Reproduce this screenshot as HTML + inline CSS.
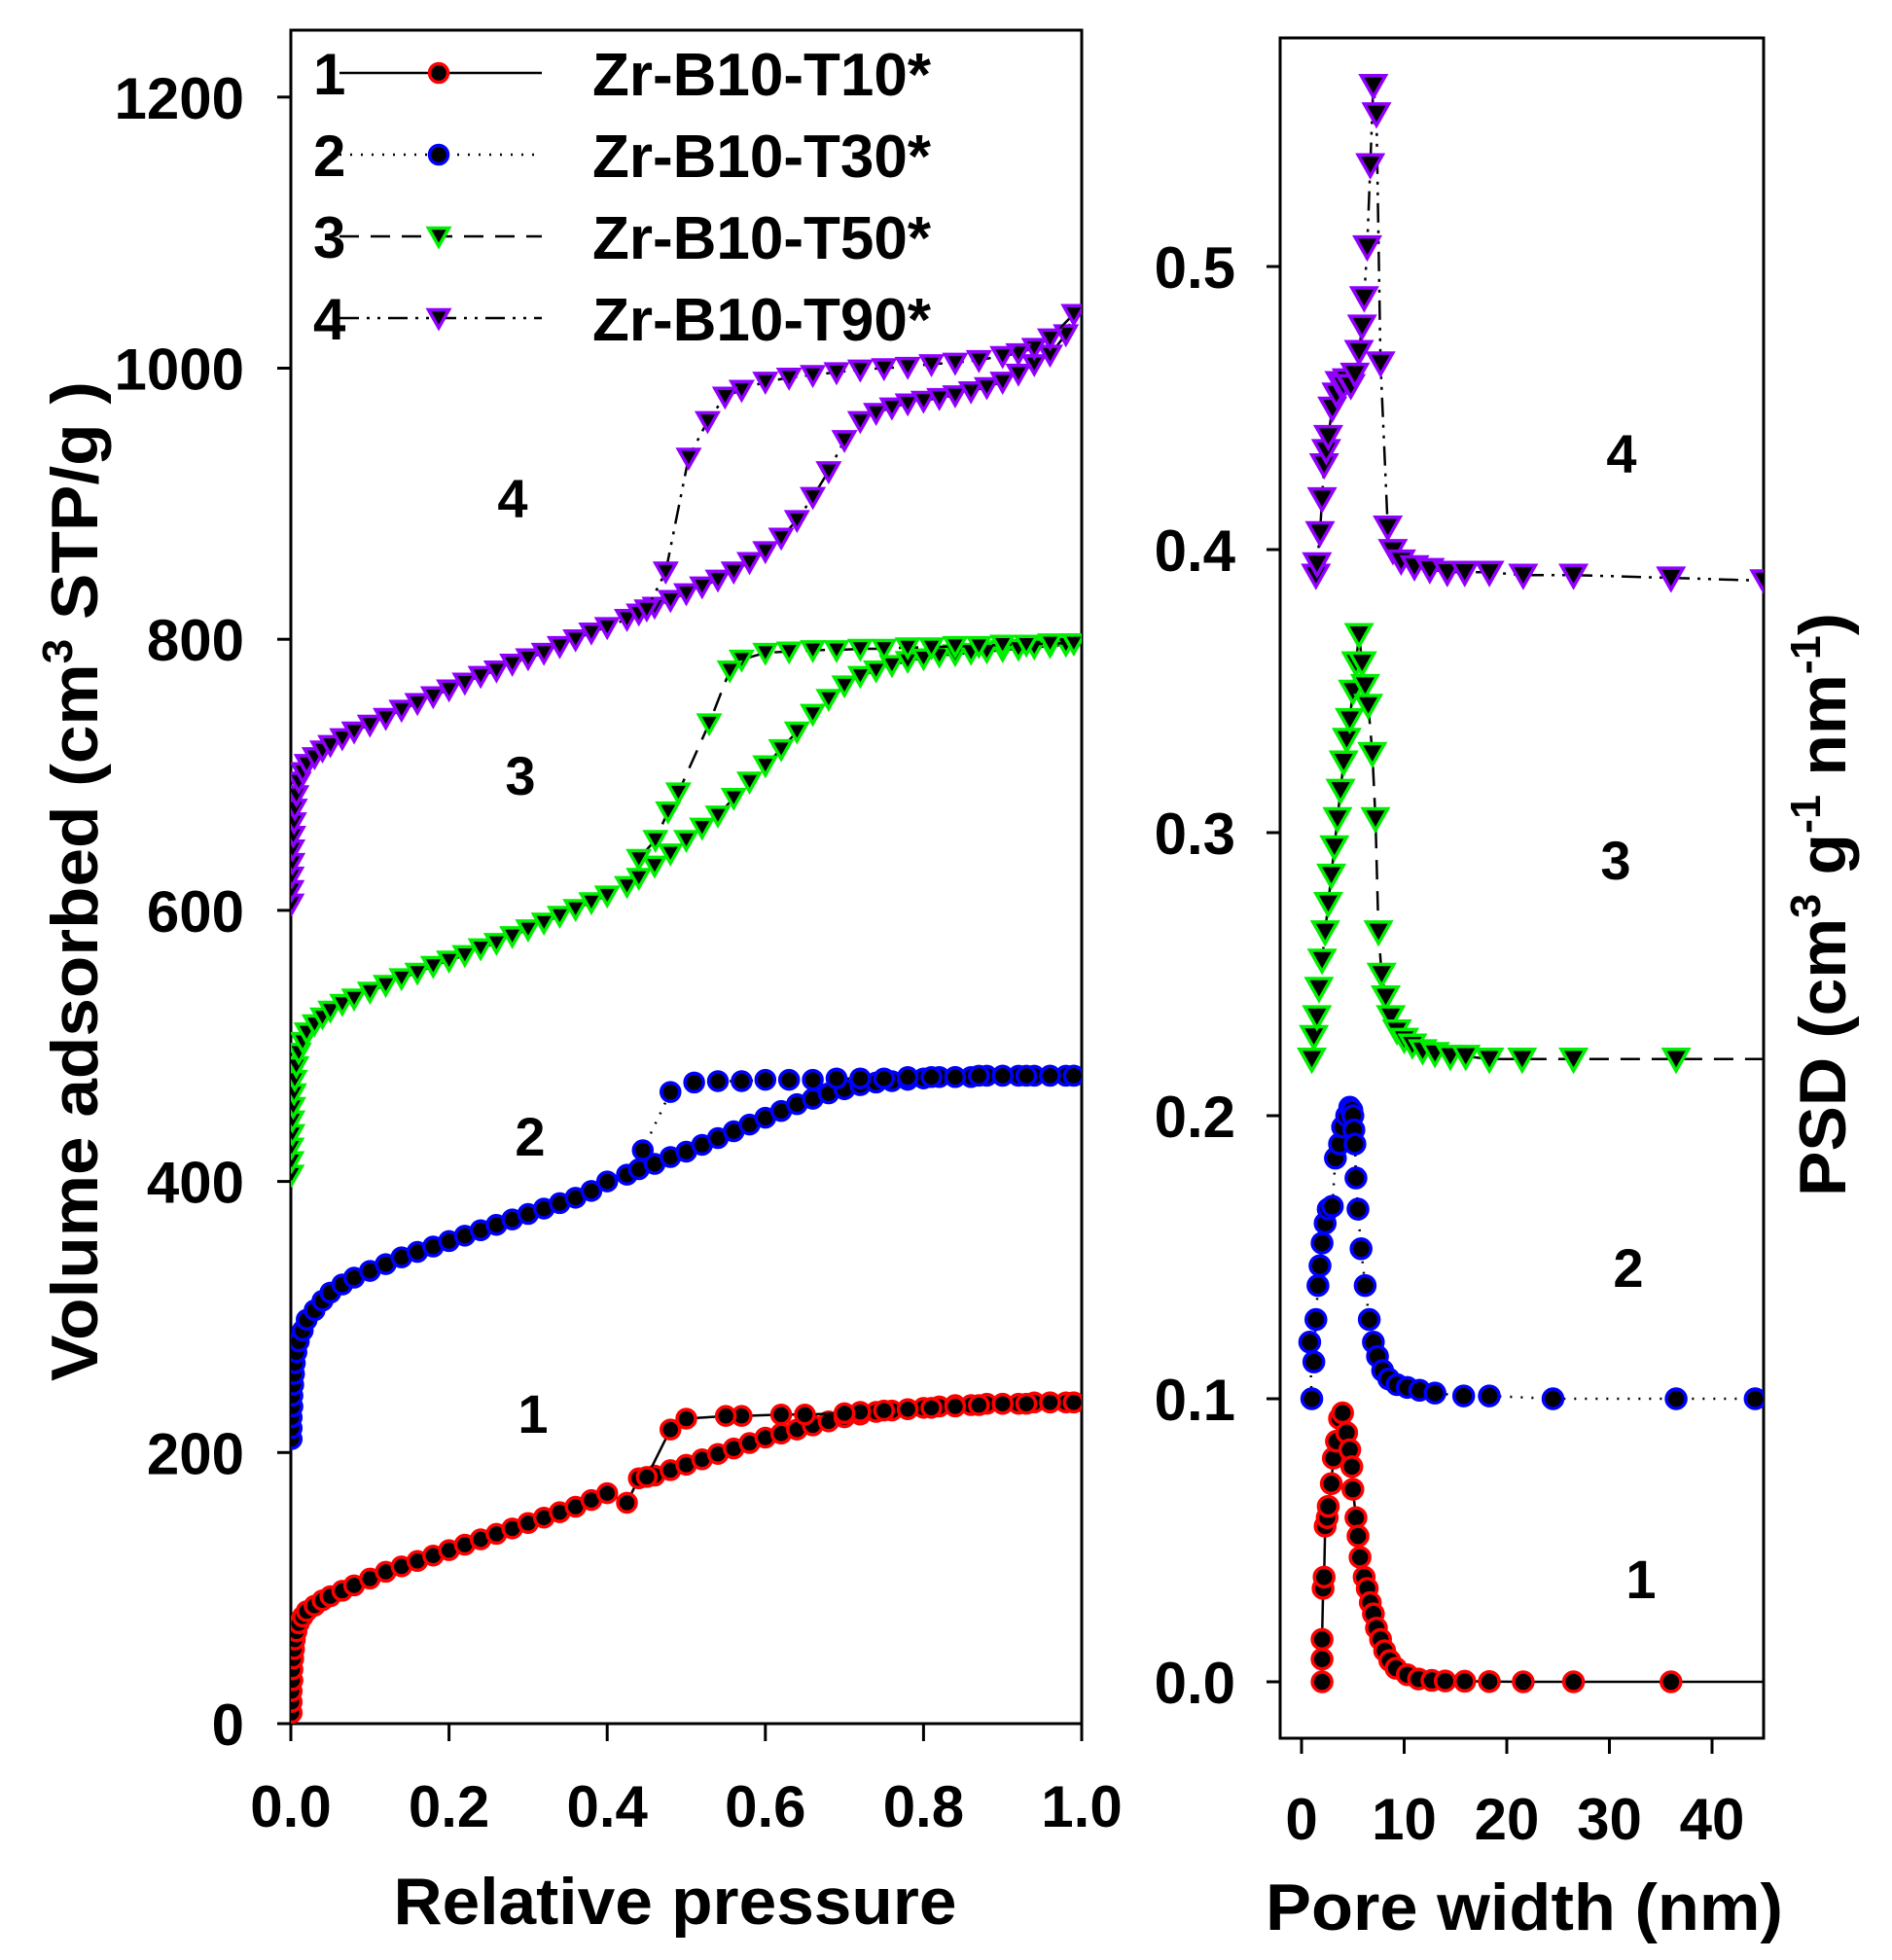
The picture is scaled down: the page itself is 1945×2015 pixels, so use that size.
<!DOCTYPE html>
<html><head><meta charset="utf-8"><style>
html,body{margin:0;padding:0;background:#fff;}
svg{display:block;font-family:"Liberation Sans",sans-serif;font-weight:bold;}
</style></head><body>
<svg id="chart" width="1945" height="2015" viewBox="0 0 1945 2015" xmlns="http://www.w3.org/2000/svg">
<defs>
<clipPath id="clipL"><rect x="299" y="31" width="813" height="1741"/></clipPath>
<clipPath id="clipR"><rect x="1316" y="39" width="497" height="1748"/></clipPath>
</defs>
<rect x="0" y="0" width="1945" height="2015" fill="#fff"/>
<g id="left-plot">
<rect x="299" y="31" width="813" height="1741" fill="none" stroke="#000" stroke-width="3"/>
<g id="left-axes"></g>
<g id="left-series" clip-path="url(#clipL)"></g>
<text x="527" y="532" font-size="56" text-anchor="middle">4</text>
<text x="535" y="817" font-size="56" text-anchor="middle">3</text>
<text x="545" y="1188" font-size="56" text-anchor="middle">2</text>
<text x="548" y="1473" font-size="56" text-anchor="middle">1</text>
<text transform="translate(100,906) rotate(-90)" font-size="68" text-anchor="middle" textLength="1028" lengthAdjust="spacingAndGlyphs">Volume adsorbed (cm<tspan font-size="44" dy="-26">3</tspan><tspan dy="26">  STP/g )</tspan></text>
<text x="694" y="1978" font-size="68" text-anchor="middle" textLength="579" lengthAdjust="spacingAndGlyphs">Relative pressure</text>
</g>
<g id="legend"></g>
<g id="right-plot">
<rect x="1316" y="39" width="497" height="1748" fill="none" stroke="#000" stroke-width="3"/>
<g id="right-axes"></g>
<g id="right-series" clip-path="url(#clipR)"></g>
<text x="1667" y="486" font-size="56" text-anchor="middle">4</text>
<text x="1661" y="904" font-size="56" text-anchor="middle">3</text>
<text x="1674" y="1323" font-size="56" text-anchor="middle">2</text>
<text x="1687" y="1643" font-size="56" text-anchor="middle">1</text>
<text transform="translate(1897,930) rotate(-90)" font-size="68" text-anchor="middle" textLength="600" lengthAdjust="spacingAndGlyphs">PSD (cm<tspan font-size="44" dy="-26">3</tspan><tspan dy="26"> g</tspan><tspan font-size="44" dy="-26">-1</tspan><tspan dy="26"> nm</tspan><tspan font-size="44" dy="-26">-1</tspan><tspan dy="26">)</tspan></text>
<text x="1567" y="1984" font-size="68" text-anchor="middle" textLength="532" lengthAdjust="spacingAndGlyphs">Pore width (nm)</text>
</g>
</svg>
<script>
// ---------- Isotherm data ----------
const pAds = [0.001,0.001,0.001,0.002,0.002,0.003,0.004,0.005,0.007,0.01,
0.015,0.02,0.03,0.04,0.05,0.065,0.08,0.1,0.12,0.14,
0.16,0.18,0.2,0.22,0.24,0.26,0.28,0.3,0.32,0.34,
0.36,0.38,0.4,0.425,0.44,0.46,0.48,0.5,0.52,0.54,
0.56,0.58,0.6,0.62,0.64,0.66,0.68,0.7,0.72,0.74,
0.76,0.78,0.8,0.82,0.84,0.86,0.88,0.9,0.92,0.94,
0.96,0.98,0.99];
const vAds1 = [8,16,24,32,40,48,55,62,68,74, 79,83,87,91,94,98,102,107,112,116, 120,124,128,132,136,140,144,148,152,156, 160,165,170,163,181,183,187,191,195,199, 203,207,211,214,217,220,223,226,228,230, 231,232,233,234,235,235,236,236,236,237, 237,237,237];
const vAds2 = [210,218,226,234,242,250,258,266,274,282, 290,298,305,312,318,324,329,334,339,344, 348,352,356,360,364,368,372,376,380,384, 388,393,400,405,409,413,418,422,427,432, 437,442,447,452,457,461,465,468,471,473, 474,475,476,477,477,477,478,478,478,478, 478,478,478];
const vAds3 = [405,415,425,435,445,455,465,475,485,495, 503,510,516,521,526,531,535,540,545,550, 554,559,563,567,572,576,581,586,591,596, 601,606,611,618,624,633,642,652,661,670, 683,695,707,719,732,745,756,766,773,777, 781,784,786,788,789,790,791,792,793,794, 795,796,797];
const vAds4 = [605,615,625,635,645,655,665,675,685,695, 702,708,713,718,722,727,732,737,742,748, 753,758,763,768,773,777,782,786,790,795, 800,805,809,815,819,824,829,834,839,844, 850,857,865,875,888,905,924,947,961,967, 971,974,976,978,980,983,986,990,996,1003, 1010,1025,1040];
const pDes1 = [0.99,0.96,0.93,0.9,0.87,0.84,0.81,0.78,0.75,0.72,0.7,0.65,0.62,0.57,0.55,0.5,0.48,0.45];
const vDes1 = [237,237,236,236,235,234,233,232,231,230,229,228,228,227,227,225,217,182];
const pDes2 = [0.99,0.96,0.93,0.9,0.87,0.84,0.81,0.78,0.75,0.72,0.69,0.66,0.63,0.6,0.57,0.54,0.51,0.48,0.445];
const vDes2 = [478,478,478,478,478,477,477,477,476,476,476,475,475,475,474,474,473,466,423];
const pDes3 = [0.99,0.96,0.93,0.9,0.87,0.84,0.81,0.78,0.75,0.72,0.69,0.66,0.63,0.6,0.57,0.555,0.529,0.49,0.477,0.461,0.44];
const vDes3 = [797,797,796,796,795,795,794,794,793,793,792,792,791,790,785,777,738,687,673,652,638];
const pDes4 = [0.99,0.96,0.94,0.92,0.9,0.87,0.84,0.81,0.78,0.75,0.72,0.69,0.66,0.63,0.6,0.57,0.549,0.527,0.503,0.474,0.45];
const vDes4 = [1040,1022,1015,1011,1009,1006,1004,1003,1001,1000,999,997,995,993,990,984,979,961,934,850,822];
const yTicksLeft = [0,200,400,600,800,1000,1200];
const xTicksLeft = [0,0.2,0.4,0.6,0.8,1.0];
const xTickLabelsLeft = ["0.0","0.2","0.4","0.6","0.8","1.0"];

// ---------- PSD data ----------
const w1 = [2.0,2.0,2.0,2.1,2.2,2.3,2.5,2.6,2.9,3.1, 3.4,3.7,4.0,4.4,4.7,4.9,5.0,5.3,5.5,5.7, 6.1,6.4,6.7,7.0,7.3,7.7,8.1,8.6,9.2,10.3, 11.4,12.7,14.0,15.9,18.3,21.6,26.5,36.0,47];
const s1 = [0.0,0.008,0.015,0.033,0.037,0.055,0.058,0.062,0.07,0.079, 0.085,0.093,0.095,0.088,0.082,0.076,0.068,0.058,0.0515,0.044, 0.037,0.033,0.028,0.024,0.019,0.015,0.011,0.0075,0.0048,0.0025, 0.001,0.0005,0.0003,0.0002,0.0001,0,0,0,0];
const w2 = [1.0,0.8,1.2,1.4,1.6,1.8,2.0,2.3,2.6,3.0, 3.3,3.7,4.0,4.4,4.7,4.9,5.0,5.1,5.2,5.3, 5.5,5.8,6.2,6.6,7.0,7.4,7.9,8.5,9.3,10.3, 11.5,13.0,15.8,18.3,24.5,36.5,44.2];
const s2 = [0.100,0.120,0.113,0.128,0.14,0.147,0.155,0.162,0.167,0.168, 0.185,0.19,0.196,0.2,0.203,0.202,0.2,0.195,0.19,0.178, 0.167,0.153,0.14,0.128,0.12,0.115,0.11,0.107,0.105,0.104, 0.103,0.102,0.101,0.101,0.1,0.1,0.1];
const w3 = [1.0,1.2,1.5,1.7,2.0,2.3,2.6,2.9,3.2,3.5, 3.8,4.1,4.4,4.7,5.0,5.3,5.6,5.9,6.2,6.5, 6.9,7.2,7.5,7.8,8.2,8.7,9.3,10.0,10.8,11.8, 13.0,14.5,16.0,18.3,21.5,26.5,36.5,47];
const s3 = [0.22,0.228,0.235,0.245,0.255,0.265,0.275,0.285,0.295,0.305, 0.315,0.325,0.333,0.34,0.35,0.36,0.37,0.36,0.352,0.345, 0.328,0.305,0.265,0.25,0.242,0.235,0.23,0.227,0.225,0.223, 0.222,0.221,0.221,0.22,0.22,0.22,0.22,0.22];
const w4 = [1.4,1.5,1.8,2.0,2.2,2.4,2.6,3.0,3.4,3.7, 4.1,4.4,4.8,5.2,5.6,5.9,6.1,6.4,6.7,7.0, 7.3,7.7,8.4,8.9,9.7,11.0,12.5,14.2,15.9,18.3, 21.6,26.5,36.0,45.1];
const s4 = [0.391,0.395,0.406,0.418,0.43,0.435,0.44,0.45,0.455,0.459, 0.458,0.46,0.458,0.462,0.47,0.479,0.489,0.507,0.536,0.564, 0.554,0.466,0.408,0.3997,0.396,0.394,0.393,0.392,0.392,0.392, 0.391,0.391,0.390,0.389];
const yTicksRight = [0,0.1,0.2,0.3,0.4,0.5];
const yTickLabelsRight = ["0.0","0.1","0.2","0.3","0.4","0.5"];
const xTicksRight = [0,10,20,30,40];

const legendNames = ["Zr-B10-T10*","Zr-B10-T30*","Zr-B10-T50*","Zr-B10-T90*"];
const legendNums = ["1","2","3","4"];

const NS = "http://www.w3.org/2000/svg";
const xL = p => 299 + p * 813;
const yL = v => 1772 - v * 1.3935;
const xR = w => 1338 + w * 10.55;
const yR = s => 1729 - s * 2910;

const styles = [
  {color:"#ff0000", marker:"circle", dash:""},
  {color:"#0000ff", marker:"circle", dash:"2,9"},
  {color:"#00ee00", marker:"tri", dash:"20,12"},
  {color:"#9100ff", marker:"tri", dash:"20,8,3,8,3,8"}
];

function mk(tag, attrs, parent){
  const e = document.createElementNS(NS, tag);
  for (const k in attrs) e.setAttribute(k, attrs[k]);
  parent.appendChild(e);
  return e;
}
function marker(parent, x, y, st, big, name){
  let e;
  if (st.marker === "circle"){
    const r = big ? 10 : 9.5;
    e = mk("circle", {cx:x, cy:y, r:r, fill:"#000", stroke:st.color, "stroke-width":3.5}, parent);
  } else {
    const hw = big ? 12.5 : 10.5, up = big ? 10 : 8.5, dn = big ? 12 : 10;
    e = mk("polygon", {points:`${x-hw},${y-up} ${x+hw},${y-up} ${x},${y+dn}`, fill:"#000", stroke:st.color, "stroke-width":3.5, "stroke-linejoin":"miter"}, parent);
  }
  
  
  return e;
}
function series(parent, xs, ys, fx, fy, st, big, name){
  const g = mk("g", {}, parent);
  
  
  const pts = xs.map((x,i)=>fx(x).toFixed(1)+","+fy(ys[i]).toFixed(1)).join(" ");
  const line = mk("polyline", {points:pts, fill:"none", stroke:"#000", "stroke-width":2.5, "stroke-dasharray":st.dash}, g);
  
  
  xs.forEach((x,i)=>{ marker(g, fx(x), fy(ys[i]), st, big, name + '-point'); });
}

// Left axes
const la = document.getElementById("left-axes");
yTicksLeft.forEach(t=>{
  const l = mk("line", {x1:285, x2:299, y1:yL(t), y2:yL(t), stroke:"#000", "stroke-width":3}, la);
  
  
  const tx = mk("text", {x:251, y:yL(t)+22, "font-size":60, "text-anchor":"end"}, la);
  tx.textContent = String(t);
  
  
});
xTicksLeft.forEach((t,i)=>{
  const l = mk("line", {x1:xL(t), x2:xL(t), y1:1772, y2:1790, stroke:"#000", "stroke-width":3}, la);
  
  
  const tx = mk("text", {x:xL(t), y:1878, "font-size":60, "text-anchor":"middle"}, la);
  tx.textContent = xTickLabelsLeft[i];
  
  
});

// Left series
const ls = document.getElementById("left-series");
const adsV = [vAds1, vAds2, vAds3, vAds4];
const desP = [pDes1, pDes2, pDes3, pDes4];
const desV = [vDes1, vDes2, vDes3, vDes4];
for (let k=0;k<4;k++){
  series(ls, pAds, adsV[k], xL, yL, styles[k], false, 'adsorption-series-' + (k+1));
  series(ls, desP[k], desV[k], xL, yL, styles[k], false, 'desorption-series-' + (k+1));
}

// Right axes
const ra = document.getElementById("right-axes");
yTicksRight.forEach((t,i)=>{
  const l = mk("line", {x1:1302, x2:1316, y1:yR(t), y2:yR(t), stroke:"#000", "stroke-width":3}, ra);
  
  
  const tx = mk("text", {x:1270, y:yR(t)+22, "font-size":60, "text-anchor":"end"}, ra);
  tx.textContent = yTickLabelsRight[i];
  
  
});
xTicksRight.forEach(t=>{
  const l = mk("line", {x1:xR(t), x2:xR(t), y1:1787, y2:1803, stroke:"#000", "stroke-width":3}, ra);
  
  
  const tx = mk("text", {x:xR(t), y:1891, "font-size":60, "text-anchor":"middle"}, ra);
  tx.textContent = String(t);
  
  
});

// Right series
const rs = document.getElementById("right-series");
const ws = [w1,w2,w3,w4], ss = [s1,s2,s3,s4];
for (let k=0;k<4;k++){
  series(rs, ws[k], ss[k], xR, yR, styles[k], true, 'psd-series-' + (k+1));
}

// Legend
const lg = document.getElementById("legend");
const rowsY = [75,159,243,327];
for (let k=0;k<4;k++){
  const y = rowsY[k];
  const g = mk("g", {}, lg);
  
  
  const n = mk("text", {x:322, y:y+22, "font-size":60}, g);
  n.textContent = legendNums[k];
  
  
  const l = mk("line", {x1:349, x2:557, y1:y, y2:y, stroke:"#000", "stroke-width":2.5, "stroke-dasharray":styles[k].dash}, g);
  
  
  marker(g, 451, y, styles[k], false, 'legend-marker');
  const t = mk("text", {x:609, y:y+23, "font-size":62, textLength:348, lengthAdjust:"spacingAndGlyphs"}, g);
  t.textContent = legendNames[k];
  
  
}
</script>
</body></html>
